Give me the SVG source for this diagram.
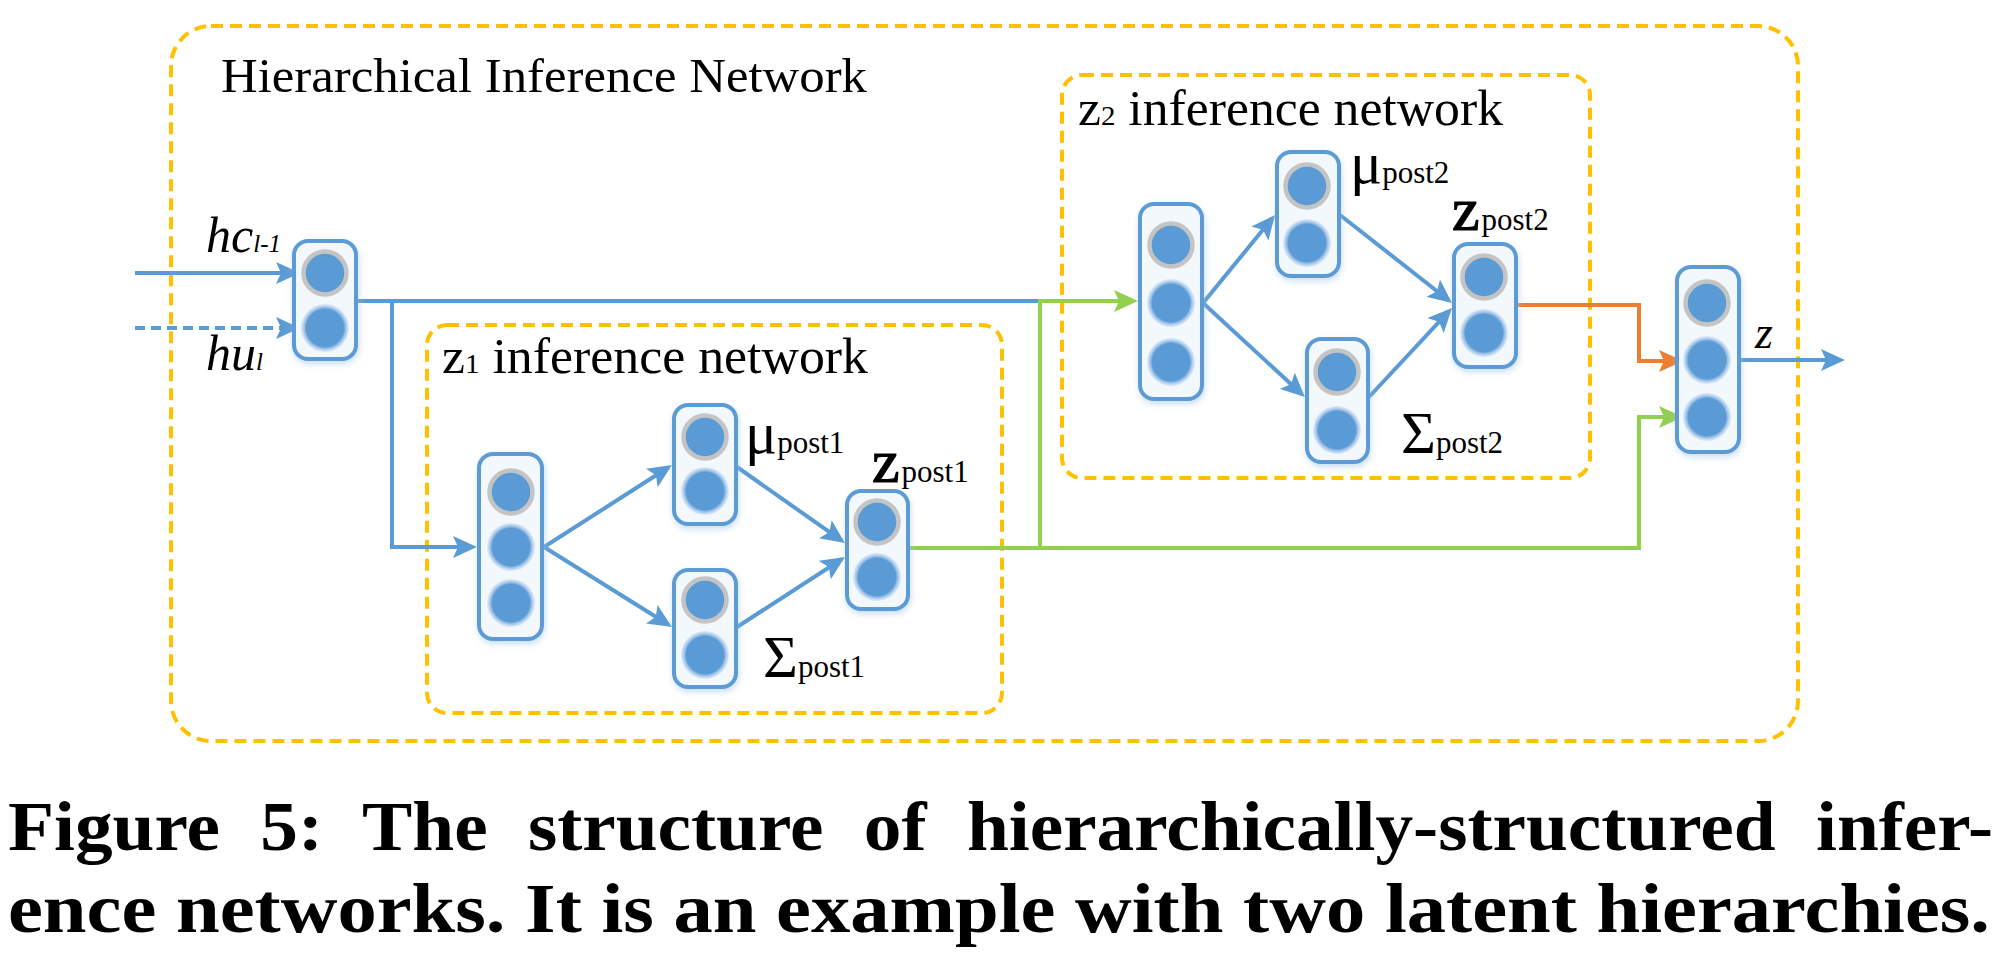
<svg xmlns="http://www.w3.org/2000/svg" width="2014" height="956" viewBox="0 0 2014 956">
<style>
.frame{fill:none;stroke:#ffc000;stroke-width:4;stroke-dasharray:12 7}
.nb{fill:#f3f8fd;stroke:#5b9bd5;stroke-width:4}
.cg{fill:#5b9bd5;stroke:#c4c4c4;stroke-width:4.5}
.ch{fill:url(#halo)}
.lb{fill:none;stroke:#5b9bd5;stroke-width:4;stroke-linejoin:miter}
.lg{fill:none;stroke:#92d050;stroke-width:4;stroke-linejoin:miter}
.lo{fill:none;stroke:#ed7d31;stroke-width:4;stroke-linejoin:miter}
.t{font-family:"Liberation Serif","DejaVu Serif",serif;fill:#000}
.it{font-style:italic}
.zb{stroke:#000;stroke-width:1.2}
.cap{font-family:"Liberation Serif","DejaVu Serif",serif;font-weight:bold;font-size:70px;fill:#000}
</style>
<defs>
<radialGradient id="halo" cx="0.5" cy="0.5" r="0.5">
<stop offset="0" stop-color="#5b9bd5"/>
<stop offset="0.78" stop-color="#5b9bd5"/>
<stop offset="0.84" stop-color="#8db7e3"/>
<stop offset="1" stop-color="#c6dcf2" stop-opacity="0.5"/>
</radialGradient>
<filter id="glow" x="-40%" y="-20%" width="180%" height="140%">
<feGaussianBlur in="SourceAlpha" stdDeviation="3" result="b"/>
<feFlood flood-color="#9dc3e6" flood-opacity="0.55"/>
<feComposite in2="b" operator="in"/>
<feOffset dx="1" dy="3" result="s"/>
<feMerge><feMergeNode in="s"/><feMergeNode in="SourceGraphic"/></feMerge>
</filter>
<marker id="ab" markerUnits="userSpaceOnUse" markerWidth="24" markerHeight="22" refX="20" refY="11" orient="auto"><path d="M0,0 L24,11 L0,22 L5,11 Z" fill="#5b9bd5"/></marker>
<marker id="ag" markerUnits="userSpaceOnUse" markerWidth="24" markerHeight="22" refX="20" refY="11" orient="auto"><path d="M0,0 L24,11 L0,22 L5,11 Z" fill="#92d050"/></marker>
<marker id="ao" markerUnits="userSpaceOnUse" markerWidth="24" markerHeight="22" refX="20" refY="11" orient="auto"><path d="M0,0 L24,11 L0,22 L5,11 Z" fill="#ed7d31"/></marker>
</defs>
<rect width="2014" height="956" fill="#fff"/>

<g id="hierarchical-inference-network">
<rect class="frame" x="171" y="26" width="1627" height="715" rx="40"/>
<text class="t" x="221" y="92" font-size="48" textLength="646" lengthAdjust="spacingAndGlyphs">Hierarchical Inference Network</text>
</g>
<g id="z1-inference-network">
<rect class="frame" x="427" y="325" width="575" height="388" rx="20"/>
<text class="t" x="442" y="373" font-size="50" textLength="426" lengthAdjust="spacingAndGlyphs">z<tspan font-size="28">1</tspan> inference network</text>
</g>
<g id="z2-inference-network">
<rect class="frame" x="1062" y="75" width="528" height="403" rx="20"/>
<text class="t" x="1078" y="125" font-size="50" textLength="425" lengthAdjust="spacingAndGlyphs">z<tspan font-size="28">2</tspan> inference network</text>
</g>

<g id="connectors">
<path class="lb" d="M135,273 H296" marker-end="url(#ab)"/>
<path class="lb" d="M135,328 H296" stroke-dasharray="10 6" marker-end="url(#ab)"/>
<path class="lb" d="M358,301 H1040"/>
<path class="lb" d="M392,301 V547 H473" marker-end="url(#ab)"/>
<path class="lb" d="M544,547 L668.6,467.2" marker-end="url(#ab)"/>
<path class="lb" d="M544,547 L668.6,624.8" marker-end="url(#ab)"/>
<path class="lb" d="M737,467 L841.7,540.7" marker-end="url(#ab)"/>
<path class="lb" d="M737,627 L841.6,559.2" marker-end="url(#ab)"/>
<path class="lb" d="M1203,303 L1272.5,218.1" marker-end="url(#ab)"/>
<path class="lb" d="M1203,303 L1302,394.3" marker-end="url(#ab)"/>
<path class="lb" d="M1340,215 L1448.9,300.5" marker-end="url(#ab)"/>
<path class="lb" d="M1369,397 L1449.3,310.9" marker-end="url(#ab)"/>
<path class="lb" d="M1728,360 H1841" marker-end="url(#ab)"/>
<path class="lg" d="M908,548 H1040 V301 H1134" marker-end="url(#ag)"/>
<path class="lg" d="M1040,548 H1639 V417 H1679" marker-end="url(#ag)"/>
<path class="lo" d="M1518,305 H1639 V361 H1679" marker-end="url(#ao)"/>
</g>

<g id="input-labels">
<text class="t it" x="206" y="252" font-size="50">hc<tspan font-size="25">l-1</tspan></text>
<text class="t it" x="206" y="370" font-size="50">hu<tspan font-size="25">l</tspan></text>
</g>

<g id="node-input">
<rect class="nb" filter="url(#glow)" x="294" y="241" width="62" height="118" rx="14"/>
<circle class="cg" cx="325" cy="273" r="21.5"/>
<circle class="ch" cx="325" cy="328" r="24"/>
</g>
<g id="node-z1-hidden">
<rect class="nb" filter="url(#glow)" x="479" y="454" width="63" height="185" rx="14"/>
<circle class="cg" cx="511" cy="492" r="21.5"/>
<circle class="ch" cx="511" cy="547" r="24"/>
<circle class="ch" cx="511" cy="603" r="24"/>
</g>
<g id="node-mu-post1">
<rect class="nb" filter="url(#glow)" x="674" y="405" width="62" height="119" rx="14"/>
<circle class="cg" cx="705" cy="437" r="21.5"/>
<circle class="ch" cx="705" cy="491" r="24"/>
<text class="t" x="745" y="453"><tspan font-size="60">μ</tspan><tspan font-size="31">post1</tspan></text>
</g>
<g id="node-sigma-post1">
<rect class="nb" filter="url(#glow)" x="674" y="570" width="62" height="117" rx="14"/>
<circle class="cg" cx="705" cy="600" r="21.5"/>
<circle class="ch" cx="705" cy="655" r="24"/>
<text class="t" x="763" y="677"><tspan font-size="60">Σ</tspan><tspan font-size="31">post1</tspan></text>
</g>
<g id="node-z-post1">
<rect class="nb" filter="url(#glow)" x="847" y="491" width="61" height="118" rx="14"/>
<circle class="cg" cx="877" cy="522" r="21.5"/>
<circle class="ch" cx="877" cy="577" r="24"/>
<text class="t" x="872" y="482"><tspan class="zb" font-size="62">z</tspan><tspan font-size="31" dx="2">post1</tspan></text>
</g>
<g id="node-z2-hidden">
<rect class="nb" filter="url(#glow)" x="1140" y="204" width="62" height="195" rx="14"/>
<circle class="cg" cx="1171" cy="245" r="21.5"/>
<circle class="ch" cx="1171" cy="303" r="24"/>
<circle class="ch" cx="1171" cy="362" r="24"/>
</g>
<g id="node-mu-post2">
<rect class="nb" filter="url(#glow)" x="1277" y="152" width="62" height="124" rx="14"/>
<circle class="cg" cx="1307" cy="186" r="21.5"/>
<circle class="ch" cx="1307" cy="243" r="24"/>
<text class="t" x="1350" y="183"><tspan font-size="60">μ</tspan><tspan font-size="31">post2</tspan></text>
</g>
<g id="node-sigma-post2">
<rect class="nb" filter="url(#glow)" x="1307" y="339" width="61" height="123" rx="14"/>
<circle class="cg" cx="1337" cy="372" r="21.5"/>
<circle class="ch" cx="1337" cy="430" r="24"/>
<text class="t" x="1401" y="453"><tspan font-size="60">Σ</tspan><tspan font-size="31">post2</tspan></text>
</g>
<g id="node-z-post2">
<rect class="nb" filter="url(#glow)" x="1454" y="244" width="62" height="123" rx="14"/>
<circle class="cg" cx="1484" cy="277" r="21.5"/>
<circle class="ch" cx="1484" cy="333" r="24"/>
<text class="t" x="1452" y="230"><tspan class="zb" font-size="62">z</tspan><tspan font-size="31" dx="2">post2</tspan></text>
</g>
<g id="node-z">
<rect class="nb" filter="url(#glow)" x="1677" y="267" width="62" height="185" rx="14"/>
<circle class="cg" cx="1707" cy="303" r="21.5"/>
<circle class="ch" cx="1707" cy="360" r="24"/>
<circle class="ch" cx="1707" cy="417" r="24"/>
<text class="t it" x="1755" y="348" font-size="46">z</text>
</g>

<g id="caption">
<text class="cap" x="8" y="850" word-spacing="20" textLength="1985" lengthAdjust="spacingAndGlyphs">Figure 5: The structure of hierarchically-structured infer-</text>
<text class="cap" x="8" y="932" textLength="1982" lengthAdjust="spacingAndGlyphs">ence networks. It is an example with two latent hierarchies.</text>
</g>
</svg>
